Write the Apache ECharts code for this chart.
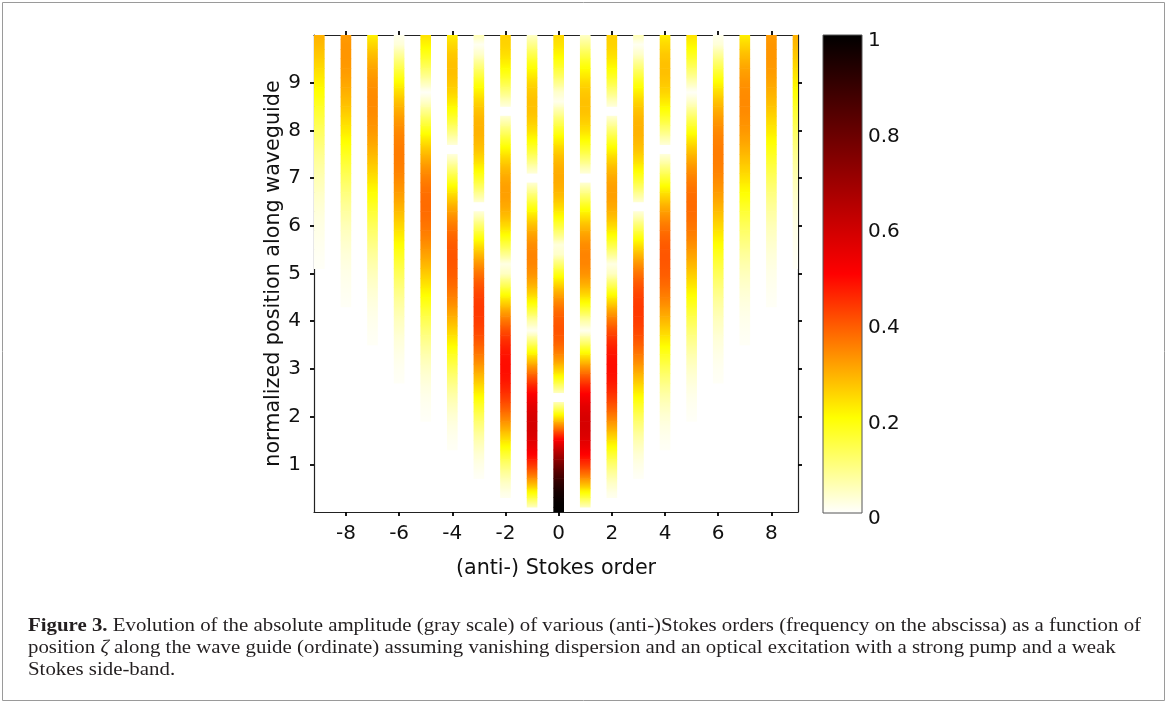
<!DOCTYPE html>
<html><head><meta charset="utf-8">
<script src="https://cdn.jsdelivr.net/npm/echarts@6/dist/echarts.min.js"></script>
<style>html,body{margin:0;padding:0;background:#fff;}#c{width:1168px;height:704px;}</style>
</head><body><div id="c"></div>
<script>
// ---------------- data ----------------
const zeta = [0,0.2,0.4,0.6,0.8,1,1.2,1.4,1.6,1.8,2,2.2,2.4,2.6,2.8,3,3.2,3.4,3.6,3.8,4,4.2,4.4,4.6,4.8,5,5.2,5.4,5.6,5.8,6,6.2,6.4,6.6,6.8,7,7.2,7.4,7.6,7.8,8,8.2,8.4,8.6,8.8,9,9.2,9.4,9.6,9.8,10];
const orders = [-9,-8,-7,-6,-5,-4,-3,-2,-1,0,1,2,3,4,5,6,7,8,9];
// amplitude per |order|, read along zeta (same for order n and -n)
const amp0 = [1.000,0.990,0.960,0.912,0.846,0.765,0.671,0.567,0.455,0.340,0.224,0.110,0.003,0.097,0.185,0.260,0.320,0.364,0.392,0.403,0.397,0.377,0.342,0.296,0.240,0.178,0.110,0.041,0.027,0.092,0.151,0.202,0.243,0.274,0.293,0.300,0.295,0.279,0.252,0.215,0.172,0.122,0.069,0.015,0.039,0.090,0.137,0.177,0.209,0.232,0.246];
const amp1 = [0.000,0.100,0.196,0.287,0.369,0.440,0.498,0.542,0.570,0.582,0.577,0.556,0.520,0.471,0.410,0.339,0.261,0.179,0.096,0.013,0.066,0.139,0.203,0.257,0.299,0.328,0.343,0.345,0.334,0.311,0.277,0.233,0.182,0.125,0.065,0.005,0.054,0.110,0.159,0.201,0.235,0.258,0.271,0.273,0.264,0.245,0.217,0.182,0.139,0.092,0.044];
const amp2 = [0.000,0.005,0.020,0.044,0.076,0.115,0.159,0.207,0.257,0.306,0.353,0.395,0.431,0.459,0.478,0.486,0.484,0.470,0.445,0.409,0.364,0.311,0.250,0.185,0.116,0.047,0.022,0.087,0.146,0.199,0.243,0.277,0.300,0.312,0.312,0.301,0.280,0.249,0.210,0.164,0.113,0.059,0.005,0.049,0.099,0.145,0.184,0.215,0.238,0.251,0.255];
const amp3 = [0.000,0.000,0.001,0.004,0.010,0.020,0.033,0.051,0.073,0.099,0.129,0.162,0.198,0.235,0.273,0.309,0.343,0.373,0.399,0.418,0.430,0.434,0.430,0.417,0.395,0.365,0.327,0.281,0.230,0.174,0.115,0.054,0.006,0.064,0.119,0.168,0.210,0.244,0.270,0.285,0.291,0.287,0.273,0.250,0.219,0.181,0.137,0.090,0.040,0.011,0.058];
const amp4 = [0,0,0,0,0.001,0.002,0.005,0.009,0.015,0.023,0.034,0.048,0.064,0.084,0.107,0.132,0.160,0.189,0.220,0.251,0.281,0.310,0.337,0.359,0.378,0.391,0.398,0.399,0.393,0.379,0.358,0.329,0.295,0.254,0.208,0.158,0.105,0.051,0.003,0.056,0.105,0.151,0.190,0.223,0.249,0.265,0.274,0.273,0.263,0.245,0.220];
const amp5 = [0,0,0,0,0,0,0.001,0.001,0.003,0.004,0.007,0.011,0.016,0.023,0.032,0.043,0.056,0.072,0.090,0.110,0.132,0.156,0.182,0.208,0.235,0.261,0.286,0.310,0.331,0.349,0.362,0.371,0.374,0.372,0.363,0.348,0.327,0.299,0.266,0.228,0.186,0.140,0.092,0.042,0.007,0.055,0.101,0.142,0.179,0.210,0.234];
const amp6 = [0,0,0,0,0,0,0,0,0,0.001,0.001,0.002,0.003,0.005,0.008,0.011,0.016,0.022,0.029,0.039,0.049,0.062,0.076,0.093,0.111,0.131,0.152,0.175,0.199,0.222,0.246,0.268,0.290,0.309,0.326,0.339,0.349,0.354,0.354,0.348,0.338,0.321,0.300,0.273,0.241,0.204,0.164,0.121,0.076,0.030,0.014];
const amp7 = [0,0,0,0,0,0,0,0,0,0,0,0,0.001,0.001,0.002,0.003,0.004,0.006,0.008,0.011,0.015,0.020,0.026,0.034,0.043,0.053,0.065,0.079,0.095,0.111,0.130,0.149,0.170,0.191,0.212,0.234,0.255,0.274,0.292,0.308,0.321,0.330,0.336,0.338,0.335,0.327,0.315,0.297,0.275,0.247,0.217];
const amp8 = [0,0,0,0,0,0,0,0,0,0,0,0,0,0,0,0,0.001,0.001,0.002,0.003,0.004,0.006,0.008,0.011,0.014,0.018,0.024,0.030,0.038,0.046,0.056,0.068,0.081,0.095,0.111,0.128,0.146,0.165,0.184,0.204,0.224,0.242,0.261,0.278,0.292,0.305,0.315,0.321,0.324,0.323,0.318];
const amp9 = [0,0,0,0,0,0,0,0,0,0,0,0,0,0,0,0,0,0,0,0.001,0.001,0.001,0.002,0.003,0.004,0.006,0.007,0.010,0.013,0.017,0.021,0.026,0.033,0.040,0.050,0.059,0.070,0.082,0.096,0.111,0.126,0.143,0.160,0.179,0.197,0.215,0.233,0.250,0.266,0.280,0.292];
const xTicks = [-8,-6,-4,-2,0,2,4,6,8];
const yTicks = [1,2,3,4,5,6,7,8,9];
const cbTicks = [0,0.2,0.4,0.6,0.8,1];
const xName = '(anti-) Stokes order';
const yName = 'normalized position along waveguide';
const captionLines = [
  ['Figure 3.', ' Evolution of the absolute amplitude (gray scale) of various (anti-)Stokes orders (frequency on the abscissa) as a function of'],
  ['', 'position {i|ζ} along the wave guide (ordinate) assuming vanishing dispersion and an optical excitation with a strong pump and a weak'],
  ['', 'Stokes side-band.']
];

// ---------------- styling / layout ----------------
const ampByOrder = [amp0,amp1,amp2,amp3,amp4,amp5,amp6,amp7,amp8,amp9];
const SHOW_MIN = 0.007;       // below this the picture is white
const HALF_W = 0.2;           // strip half width (order units)
const HALF_H = (zeta[1] - zeta[0]) / 2;
const Y_MIN = 0, Y_MAX = 10;
const FONT = "'DejaVu Sans', sans-serif";

function cmap(v) {
  let r, g, b;
  if (v <= 0.2) { r = 1; g = 1; b = 1 - v / 0.2; }
  else if (v <= 0.5) { r = 1; g = 1 - (v - 0.2) / 0.3; b = 0; }
  else { r = 1 - (v - 0.5) / 0.5; g = 0; b = 0; }
  const h = x => Math.round(Math.max(0, Math.min(1, x)) * 255).toString(16).padStart(2, '0');
  return '#' + h(r) + h(g) + h(b);
}

// one item per visible sample: [order, zeta, value, previous value, next value]
const cells = [];
orders.forEach(n => {
  const arr = ampByOrder[Math.abs(n)];
  zeta.forEach((z, k) => {
    if (arr[k] < SHOW_MIN) return;
    const prev = k > 0 ? arr[k - 1] : arr[k];
    const next = k < arr.length - 1 ? arr[k + 1] : arr[k];
    cells.push([n, z, arr[k], prev, next]);
  });
});

function renderCell(params, api) {
  const n = api.value(0), z = api.value(1), v = api.value(2), vp = api.value(3), vn = api.value(4);
  const lo = Math.max(Y_MIN, z - HALF_H), hi = Math.min(Y_MAX, z + HALF_H);
  const p0 = api.coord([n - HALF_W, hi]);
  const p1 = api.coord([n + HALF_W, lo]);
  const cs = params.coordSys;
  const rect = echarts.graphic.clipRectByRect(
    { x: p0[0], y: p0[1] - 0.3, width: p1[0] - p0[0], height: p1[1] - p0[1] + 0.6 },
    { x: cs.x, y: cs.y, width: cs.width, height: cs.height });
  if (!rect) return null;
  const valAt = y => y < z ? v + (vp - v) * (z - y) / (2 * HALF_H) : v + (vn - v) * (y - z) / (2 * HALF_H);
  const stops = [];
  const N = 6;
  for (let i = 0; i <= N; i++) {
    const y = lo + (hi - lo) * i / N;
    stops.push({ offset: i / N, color: cmap(valAt(y)) });
  }
  return { type: 'rect', shape: rect,
    style: { fill: new echarts.graphic.LinearGradient(0, 1, 0, 0, stops) } };
}
function renderBar(params, api) {
  const p0 = api.coord([0, 1]);
  const p1 = api.coord([1, 0]);
  return {
    type: 'rect',
    shape: { x: p0[0], y: p0[1], width: p1[0] - p0[0], height: p1[1] - p0[1] },
    style: {
      fill: new echarts.graphic.LinearGradient(0, 1, 0, 0, [
        { offset: 0, color: cmap(0) }, { offset: 0.2, color: cmap(0.2) },
        { offset: 0.5, color: cmap(0.5) }, { offset: 1, color: cmap(1) }]),
      stroke: '#555', lineWidth: 1
    }
  };
}

const axisLine = { show: true, onZero: false, lineStyle: { color: '#222', width: 1.2 } };
const tickStyle = { color: '#000', width: 1.8 };
const labelStyle = { color: '#111', fontSize: 20, fontFamily: FONT };
const nameStyle = { color: '#111', fontSize: 20.7, fontFamily: FONT };

// caption: one common horizontal scale so that the first line spans the reference width
const capSize = 19.5, capFamily = '"Liberation Serif", serif';
const capLeft = 28, capRight1 = 1141, capY = [626, 648, 670];
const mctx = document.createElement('canvas').getContext('2d');
function mw(t, bold) { mctx.font = (bold ? 'bold ' : '') + capSize + 'px ' + capFamily; return mctx.measureText(t).width; }
const capScale = (capRight1 - capLeft) / (mw(captionLines[0][0], true) + mw(captionLines[0][1], false));
const graphics = [{
  type: 'rect', silent: true,
  shape: { x: 2.5, y: 2.5, width: 1162, height: 698 },
  style: { fill: 'none', stroke: '#9a9a9a', lineWidth: 1 }
}];
captionLines.forEach((ln, i) => {
  graphics.push({
    type: 'text', silent: true, x: capLeft, y: capY[i], scaleX: capScale,
    style: {
      text: (ln[0] ? '{b|' + ln[0] + '}' : '') + ln[1],
      fontSize: capSize, fontFamily: capFamily, fill: '#231f20',
      verticalAlign: 'middle', align: 'left',
      rich: {
        b: { fontWeight: 'bold', fontSize: capSize, fontFamily: capFamily, fill: '#231f20' },
        i: { fontStyle: 'italic', fontSize: capSize, fontFamily: capFamily, fill: '#231f20' }
      }
    }
  });
});

const chart = echarts.init(document.getElementById('c'), null, { renderer: 'canvas' });
chart.setOption({
  backgroundColor: '#fff',
  animation: false,
  grid: [
    { left: 314, top: 35, width: 484, height: 477 },
    { left: 823, top: 35, width: 39, height: 478 }
  ],
  xAxis: [
    { gridIndex: 0, type: 'value', position: 'bottom', min: -9.2, max: 9,
      axisLine, splitLine: { show: false },
      axisTick: { show: true, length: 4, lineStyle: tickStyle, customValues: xTicks },
      axisLabel: Object.assign({ margin: 12, customValues: xTicks }, labelStyle),
      name: xName, nameLocation: 'middle', nameGap: 46, nameTextStyle: nameStyle },
    { gridIndex: 0, type: 'value', position: 'top', min: -9.2, max: 9,
      axisLine, splitLine: { show: false },
      axisTick: { show: true, length: 4, lineStyle: tickStyle, customValues: xTicks },
      axisLabel: { show: false } },
    { gridIndex: 1, type: 'value', min: 0, max: 1, show: false }
  ],
  yAxis: [
    { gridIndex: 0, type: 'value', position: 'left', min: Y_MIN, max: Y_MAX,
      axisLine, splitLine: { show: false },
      axisTick: { show: true, length: 4, lineStyle: tickStyle, customValues: yTicks },
      axisLabel: Object.assign({ margin: 13, customValues: yTicks }, labelStyle),
      name: yName, nameLocation: 'middle', nameGap: 30, nameTextStyle: nameStyle },
    { gridIndex: 0, type: 'value', position: 'right', min: Y_MIN, max: Y_MAX,
      axisLine, splitLine: { show: false },
      axisTick: { show: true, length: 4, lineStyle: tickStyle, customValues: yTicks },
      axisLabel: { show: false } },
    { gridIndex: 1, type: 'value', position: 'right', min: 0, max: 1, interval: 0.2,
      axisLine: { show: false }, axisTick: { show: false }, splitLine: { show: false },
      axisLabel: Object.assign({ margin: 6, customValues: cbTicks, verticalAlign: 'top', lineHeight: 12,
        formatter: v => (Math.abs(v) < 1e-9 ? '0' : Math.abs(v - 1) < 1e-9 ? '1' : v.toFixed(1)) }, labelStyle) }
  ],
  series: [
    { type: 'custom', xAxisIndex: 0, yAxisIndex: 0, renderItem: renderCell,
      encode: { x: 0, y: 1 }, data: cells, silent: true },
    { type: 'custom', xAxisIndex: 2, yAxisIndex: 2, renderItem: renderBar,
      data: [[0.5, 0.5]], silent: true }
  ],
  graphic: graphics
});
</script></body></html>
